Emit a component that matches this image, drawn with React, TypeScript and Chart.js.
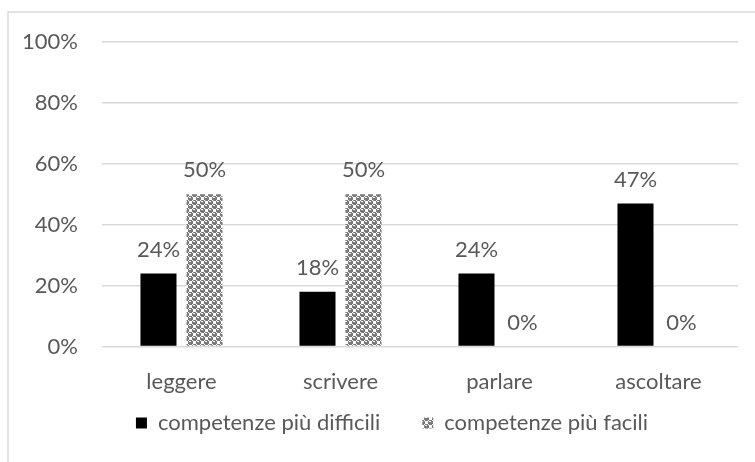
import { useEffect, useRef } from "react";
import { Chart, registerables } from "chart.js";

Chart.register(...registerables);

const categories = ["leggere", "scrivere", "parlare", "ascoltare"];
const seriesNames = ["competenze più difficili", "competenze più facili"];
const difficili = [0.24, 0.18, 0.24, 0.47];
const facili = [0.5, 0.5, 0, 0];
const yTickStep = 0.2;
const yMax = 1;

const FONT = "Lato, 'Open Sans', sans-serif";
const SIZE = 22;
const TEXT = "#595959";
const GRID = "#d9d9d9";

function makePattern(): CanvasPattern | string {
  const bits = [0x77, 0x98, 0xf8, 0xf8, 0x77, 0x89, 0x8f, 0x8f];
  const c = document.createElement("canvas");
  c.width = 8;
  c.height = 8;
  const g = c.getContext("2d");
  if (!g) return "#808080";
  g.fillStyle = "#ffffff";
  g.fillRect(0, 0, 8, 8);
  g.fillStyle = "#7a7a7a";
  bits.forEach((row, y) => {
    for (let x = 0; x < 8; x++) if (row & (0x80 >> x)) g.fillRect(x, y, 1, 1);
  });
  return g.createPattern(c, "repeat") || "#808080";
}

const pct = (v: number) => Math.round(v * 100) + "%";

const frame = {
  id: "frame",
  beforeDraw(chart: any) {
    const ctx = chart.ctx;
    ctx.save();
    ctx.fillStyle = "#ffffff";
    ctx.fillRect(0, 0, chart.width, chart.height);
    ctx.strokeStyle = GRID;
    ctx.lineWidth = 1.5;
    ctx.strokeRect(8, 12, chart.width + 40, chart.height + 40);
    ctx.restore();
  },
};

// place the library's legend inside the (cropped) chart frame, as in the original
const legendPlacement = {
  id: "legendPlacement",
  afterLayout(chart: any) {
    const lg = chart.legend;
    if (!lg) return;
    const h = lg.height;
    lg.top = 370;
    lg.bottom = 370 + h;
    lg.left = 8;
    lg.right = 776;
    lg.width = 768;
  },
};

const dataLabels = {
  id: "dataLabels",
  afterDatasetsDraw(chart: any) {
    const ctx = chart.ctx;
    ctx.save();
    ctx.font = `${SIZE}px ${FONT}`;
    ctx.fillStyle = TEXT;
    ctx.textAlign = "center";
    ctx.textBaseline = "middle";
    chart.data.datasets.forEach((ds: any, i: number) => {
      const meta = chart.getDatasetMeta(i);
      meta.data.forEach((el: any, j: number) => {
        ctx.fillText(pct(ds.data[j]), el.x, el.y - 24);
      });
    });
    ctx.restore();
  },
};

export default function App() {
  const ref = useRef<HTMLCanvasElement>(null);
  useEffect(() => {
    if (!ref.current) return;
    const chart = new Chart(ref.current, {
      type: "bar",
      data: {
        labels: categories,
        datasets: [
          {
            label: seriesNames[0],
            data: difficili,
            backgroundColor: "#000000",
            borderWidth: 0,
            barPercentage: 0.783,
            categoryPercentage: 0.579,
          },
          {
            label: seriesNames[1],
            data: facili,
            backgroundColor: makePattern() as any,
            borderWidth: 0,
            barPercentage: 0.783,
            categoryPercentage: 0.579,
          },
        ],
      },
      options: {
        responsive: false,
        animation: false,
        devicePixelRatio: 1,
        layout: { padding: { left: 0, right: 17, top: 42, bottom: 12 } },
        plugins: {
          tooltip: { enabled: false },
          legend: {
            position: "bottom",
            labels: {
              boxWidth: 11,
              boxHeight: 11,
              padding: 42,
              color: TEXT,
              font: { family: FONT, size: SIZE },
            },
          },
        },
        scales: {
          x: {
            grid: { display: false, drawTicks: false },
            border: { display: false },
            ticks: { color: TEXT, font: { family: FONT, size: SIZE }, padding: 22 },
          },
          y: {
            min: 0,
            max: yMax,
            grid: { color: GRID, lineWidth: 1.5, drawTicks: false },
            border: { display: false },
            ticks: {
              stepSize: yTickStep,
              color: TEXT,
              padding: 24,
              font: { family: FONT, size: SIZE },
              callback: (v: any) => pct(Number(v)),
            },
            afterFit: (s: any) => {
              s.width = 102;
            },
          },
        },
      },
      plugins: [frame, legendPlacement, dataLabels],
    });
    return () => chart.destroy();
  }, []);
  return (
    <div style={{ position: "fixed", left: 0, top: 0, width: 755, height: 462, overflow: "hidden", background: "#fff" }}>
      <canvas ref={ref} width={755} height={503} style={{ display: "block", width: 755, height: 503 }} />
    </div>
  );
}
